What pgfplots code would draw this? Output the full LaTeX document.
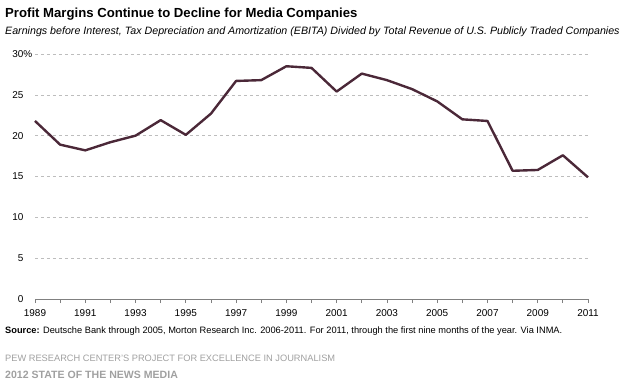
\documentclass[border=0pt]{standalone}
\usepackage{pgfplots}
\pgfplotsset{compat=1.18}
\usepackage{fontspec}
\setmainfont{Liberation Sans}
\definecolor{linec}{HTML}{4B2838}
\definecolor{gridc}{HTML}{BDBDBD}
\definecolor{axisc}{HTML}{808080}
\definecolor{pewc}{HTML}{A0A0A0}
\begin{document}
\begin{tikzpicture}[x=1bp,y=1bp]
\path[use as bounding box] (0,0) rectangle (631,383);
\begin{axis}[
  at={(35bp,84bp)}, anchor=origin,
  scale only axis, width=553bp, height=245bp,
  xmin=1989, xmax=2011, ymin=0, ymax=30,
  axis x line*=bottom, axis y line*=left,
  y axis line style={draw=none},
  x axis line style={draw=axisc, line width=1pt},
  /pgf/number format/assume math mode=true,
  xtick={1989,1991,...,2011},
  minor xtick={1990,1992,...,2010},
  xticklabel style={/pgf/number format/1000 sep=, font=\fontsize{10}{12}\selectfont, yshift=-3bp},
  x tick style={draw=axisc, line width=0.8pt},
  minor x tick style={draw=axisc, line width=0.8pt},
  tick align=outside,
  major tick length=4bp, minor tick length=4bp,
  ytick={0,5,10,15,20,25,30},
  yticklabels={0,5,10,15,20,25,30\rlap{\%}},
  yticklabel style={font=\fontsize{10}{12}\selectfont, xshift=-4bp},
  y tick style={draw=none},
  ymajorgrids,
  grid style={draw=gridc, dashed, line width=0.6pt},
  clip=false,
]
\addplot[linec, line width=2.4pt, line join=round] coordinates {
(1989,21.8) (1990,18.9) (1991,18.2) (1992,19.2) (1993,20.0) (1994,21.9)
(1995,20.1) (1996,22.7) (1997,26.7) (1998,26.8) (1999,28.5) (2000,28.3)
(2001,25.4) (2002,27.6) (2003,26.8) (2004,25.7) (2005,24.2) (2006,22.0)
(2007,21.8) (2008,15.7) (2009,15.8) (2010,17.6) (2011,14.9)
};
\end{axis}
\node[anchor=base west, inner sep=0] at (5,366) {\fontsize{13.2}{15}\selectfont\bfseries Profit Margins Continue to Decline for Media Companies};
\node[anchor=base west, inner sep=0] at (5,349) {\fontsize{10.7}{12}\selectfont\itshape Earnings before Interest, Tax Depreciation and Amortization (EBITA) Divided by Total Revenue of U.S. Publicly Traded Companies};
\node[anchor=base west, inner sep=0] at (5,50) {\fontsize{9.3}{11}\selectfont\textbf{Source:} Deutsche Bank through 2005, Morton Research Inc. 2006-2011. For 2011, through the first nine months of the year. Via INMA.};
\node[anchor=base west, inner sep=0, text=pewc] at (5,22) {\fontsize{9.3}{11}\selectfont PEW RESEARCH CENTER'S PROJECT FOR EXCELLENCE IN JOURNALISM};
\node[anchor=base west, inner sep=0, text=pewc] at (5,5) {\fontsize{10.6}{12}\selectfont\bfseries 2012 STATE OF THE NEWS MEDIA};
\end{tikzpicture}
\end{document}
